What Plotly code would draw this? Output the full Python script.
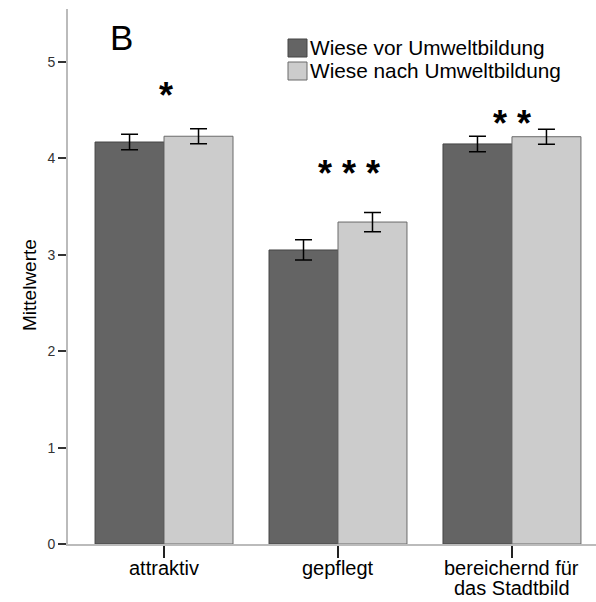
import plotly.graph_objects as go

categories = ["attraktiv", "gepflegt", "bereichernd für<br>das Stadtbild"]
series_names = ["Wiese vor Umweltbildung", "Wiese nach Umweltbildung"]
vor_values = [4.17, 3.05, 4.15]
vor_errors = [0.08, 0.105, 0.08]
nach_values = [4.23, 3.34, 4.225]
nach_errors = [0.078, 0.10, 0.078]
significance = ["*", "* * *", "* *"]
y_ticks = [0, 1, 2, 3, 4, 5]

FONT = "Liberation Sans, Arial, sans-serif"
DARK = "#646464"
LIGHT = "#cccccc"

W, H = 596, 602
L, R, T, B = 68, 0, 9, 58
pw, ph = W - L - R, H - T - B

def px_x(p):
    return (p - L) / pw

def px_y(p):
    return (H - B - p) / ph

x_idx = list(range(len(categories)))

fig = go.Figure()
fig.add_trace(go.Bar(
    x=x_idx, y=vor_values, name=series_names[0],
    marker=dict(color=DARK, line=dict(color="#444444", width=1)),
    error_y=dict(type="data", array=vor_errors, color="#000000", thickness=1.5, width=8.5),
))
fig.add_trace(go.Bar(
    x=x_idx, y=nach_values, name=series_names[1],
    marker=dict(color=LIGHT, line=dict(color="#6a6a6a", width=1)),
    error_y=dict(type="data", array=nach_errors, color="#000000", thickness=1.5, width=8.5),
))

# significance stars
star_offsets = [0.012, 0.063, 0.0]
star_y = [4.65, 3.84, 4.36]
for i, s in enumerate(significance):
    fig.add_annotation(x=x_idx[i] + star_offsets[i], y=star_y[i], text="<b>" + s + "</b>",
                       showarrow=False,
                       font=dict(family=FONT, size=36, color="#000000"),
                       xanchor="center", yanchor="middle")

# category labels (placed line by line to match the tight line spacing)
for i, cat in enumerate(categories):
    for j, line in enumerate(cat.split("<br>")):
        fig.add_annotation(x=x_idx[i], xref="x", yref="paper", y=px_y(568 + 20 * j),
                           text=line, showarrow=False, xanchor="center", yanchor="middle",
                           font=dict(family=FONT, size=20, color="#000000"))

# panel letter
fig.add_annotation(xref="paper", yref="paper", x=px_x(121.5), y=px_y(38), text="B",
                   showarrow=False, font=dict(family=FONT, size=35, color="#000000"),
                   xanchor="center", yanchor="middle")

# y-axis title
fig.add_annotation(xref="paper", yref="paper", x=px_x(29), y=px_y(285), text="Mittelwerte",
                   textangle=-90, showarrow=False,
                   font=dict(family=FONT, size=19, color="#000000"),
                   xanchor="center", yanchor="middle")

# manual legend
leg_colors = [(DARK, "#444444"), (LIGHT, "#6a6a6a")]
leg_rows = [(39, 57), (62, 80)]
for (fill, edge), (y0, y1), name in zip(leg_colors, leg_rows, series_names):
    fig.add_shape(type="rect", xref="paper", yref="paper",
                  x0=px_x(288), x1=px_x(307), y0=px_y(y1), y1=px_y(y0),
                  fillcolor=fill, line=dict(color=edge, width=1))
    fig.add_annotation(xref="paper", yref="paper", x=px_x(308), y=px_y((y0 + y1) / 2),
                       text=name, showarrow=False, xanchor="left", yanchor="middle",
                       font=dict(family=FONT, size=20.8, color="#000000"))

fig.update_layout(
    width=W, height=H,
    margin=dict(l=L, r=R, t=T, b=B, pad=0, autoexpand=False),
    paper_bgcolor="white", plot_bgcolor="white",
    barmode="group", bargap=0.207, bargroupgap=0,
    showlegend=False,
    font=dict(family=FONT, color="#000000"),
)
fig.update_xaxes(
    automargin=False,
    range=[-0.552, 2.483], tickmode="array", tickvals=x_idx, showticklabels=False,
    showline=True, linecolor="#bbbbbb", linewidth=2,
    ticks="outside", ticklen=12, tickcolor="#222222", tickwidth=1.5,
    showgrid=False, zeroline=False,
)
fig.update_yaxes(
    automargin=False,
    range=[0, 5.55], tickmode="array", tickvals=y_ticks,
    showline=True, linecolor="#bbbbbb", linewidth=2,
    ticks="outside", ticklen=8, tickcolor="#333333", tickwidth=1.5,
    showgrid=False, zeroline=False,
    tickfont=dict(family=FONT, size=14, color="#333333"),
)

fig.write_html("out.html")
